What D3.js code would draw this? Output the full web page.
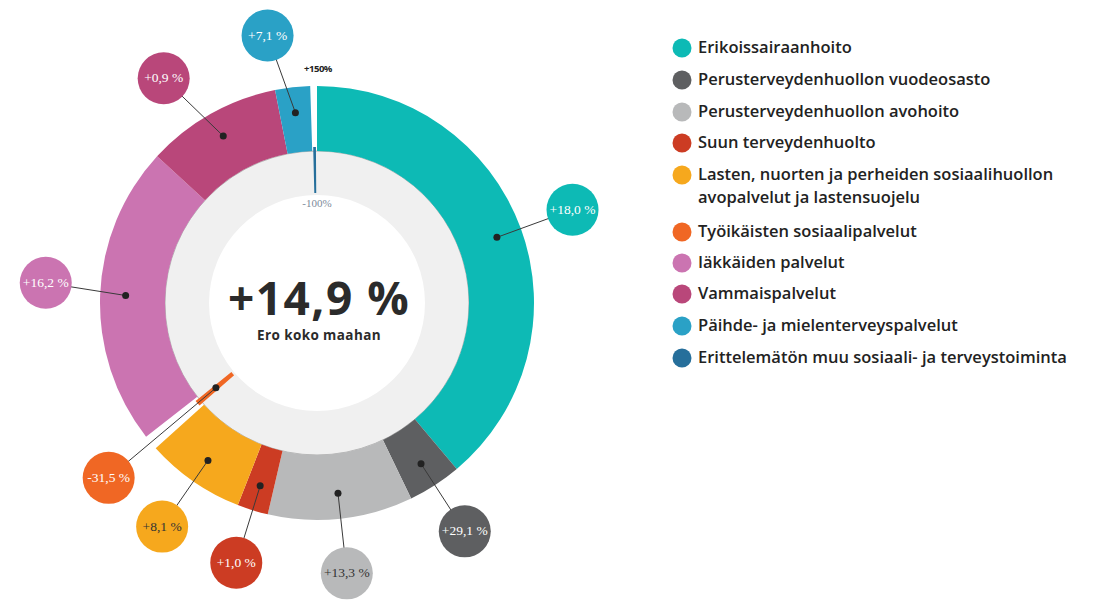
<!DOCTYPE html>
<html>
<head>
<meta charset="utf-8">
<script src="https://cdn.jsdelivr.net/npm/d3@7"></script>
<style>
body { margin: 0; background: #fff; }
</style>
</head>
<body>
<div id="chart"></div>
<script>
// categories in drawing order (clockwise from 12 o'clock)
var categories = ["Erikoissairaanhoito",
                  "Perusterveydenhuollon vuodeosasto",
                  "Perusterveydenhuollon avohoito",
                  "Suun terveydenhuolto",
                  "Lasten, nuorten ja perheiden sosiaalihuollon avopalvelut ja lastensuojelu",
                  "Työikäisten sosiaalipalvelut",
                  "Iäkkäiden palvelut",
                  "Vammaispalvelut",
                  "Päihde- ja mielenterveyspalvelut",
                  "Erittelemätön muu sosiaali- ja terveystoiminta"];
// share of the ring (percent of the full circle)
var shares = [38.9, 4.0, 10.8, 2.3, 7.4, 1.1, 22.4, 10.1, 2.6, 0.5];
// difference to whole country, %
var diffs = [18.0, 29.1, 13.3, 1.0, 8.1, -31.5, 16.2, 0.9, 7.1, -100];
var diffLabels = ["+18,0 %", "+29,1 %", "+13,3 %", "+1,0 %", "+8,1 %",
                  "-31,5 %", "+16,2 %", "+0,9 %", "+7,1 %", null];
var colors = ["#0dbab5", "#5e5f61", "#b8b9ba", "#cc3c23", "#f6a81d",
              "#f06724", "#cb74b1", "#b9477a", "#2aa1c6", "#266f9b"];
var legendLines = [["Erikoissairaanhoito"],
                   ["Perusterveydenhuollon vuodeosasto"],
                   ["Perusterveydenhuollon avohoito"],
                   ["Suun terveydenhuolto"],
                   ["Lasten, nuorten ja perheiden sosiaalihuollon", "avopalvelut ja lastensuojelu"],
                   ["Työikäisten sosiaalipalvelut"],
                   ["Iäkkäiden palvelut"],
                   ["Vammaispalvelut"],
                   ["Päihde- ja mielenterveyspalvelut"],
                   ["Erittelemätön muu sosiaali- ja terveystoiminta"]];
var totalLabel = "+14,9 %";
var totalSub = "Ero koko maahan";
var scaleTop = "+150%";
var scaleBottom = "-100%";

var w = 1097, h = 604;
var cx = 317, cy = 303;
var rWhite = 108, rZero = 152, rOuter = 217;
var rLabel = 272, rBubble = 26;
// small angular nudges (degrees) to keep crowded bubbles apart
var nudge = {6: 2, 7: -5, 8: -4};

var svg = d3.select("#chart")
    .append("svg")
    .attr("width", w)
    .attr("height", h);

var g = svg.append("g")
    .attr("transform", "translate(" + cx + "," + cy + ")");

var data = categories.map(function(c, i) {
    return {name: c, share: shares[i], diff: diffs[i], label: diffLabels[i], color: colors[i], i: i};
});

var pie = d3.pie()
    .sort(null)
    .value(function(d) { return d.share; });

var arcs = pie(data);

// gray band for the negative side
g.append("path")
    .attr("d", d3.arc()({innerRadius: rWhite, outerRadius: rZero, startAngle: 0, endAngle: 2 * Math.PI}))
    .attr("fill", "#f0f0f0");

g.append("circle")
    .attr("r", rZero)
    .attr("fill", "none")
    .attr("stroke", "#8a8a8a")
    .attr("stroke-width", 0.6);

var posArc = d3.arc().innerRadius(rZero).outerRadius(rOuter);
var negArc = d3.arc().innerRadius(rWhite + 2).outerRadius(rZero + 4);

g.selectAll("path.seg")
    .data(arcs)
    .enter()
    .append("path")
    .attr("class", "seg")
    .attr("fill", function(d) { return d.data.color; })
    .attr("d", function(d) {
        if (d.data.diff >= 0) return posArc(d);
        var mid = (d.startAngle + d.endAngle) / 2;
        var half = (d.endAngle - d.startAngle) * 0.28;
        return negArc({startAngle: mid - half, endAngle: mid + half});
    });

function midAngle(d) { return (d.startAngle + d.endAngle) / 2; }
function polar(a, r) { return [Math.sin(a) * r, -Math.cos(a) * r]; }

// leader lines and bubbles
var labelled = arcs.filter(function(d) { return d.data.label; });

labelled.forEach(function(d) {
    var a = midAngle(d);
    var rDot = d.data.diff >= 0 ? (rZero + rOuter) / 2 + 7 : (rWhite + rZero) / 2 + 2;
    var dot = polar(a, rDot);
    var ab = a + (nudge[d.data.i] || 0) * Math.PI / 180;
    var b = polar(ab, rLabel);

    g.append("line")
        .attr("x1", dot[0]).attr("y1", dot[1])
        .attr("x2", b[0]).attr("y2", b[1])
        .style("stroke", "#3a3a3a")
        .style("stroke-width", 1);

    g.append("circle")
        .attr("cx", dot[0]).attr("cy", dot[1])
        .attr("r", 3.5)
        .attr("fill", "#222");

    g.append("circle")
        .attr("cx", b[0]).attr("cy", b[1])
        .attr("r", rBubble)
        .attr("fill", d.data.color);

    var dark = d.data.i == 2 || d.data.i == 4;
    g.append("text")
        .attr("x", b[0]).attr("y", b[1] + 4)
        .attr("text-anchor", "middle")
        .attr("font-family", "Liberation Serif, serif")
        .attr("font-size", "13.5px")
        .attr("fill", dark ? "#333" : "#fff")
        .text(d.data.label);
});

// scale labels
g.append("text")
    .attr("x", 1).attr("y", -rOuter - 14)
    .attr("text-anchor", "middle")
    .attr("font-family", "Open Sans, sans-serif")
    .attr("font-weight", "bold")
    .attr("font-size", "9.5px")
    .attr("letter-spacing", "-0.5px")
    .attr("fill", "#222")
    .text(scaleTop);

g.append("text")
    .attr("x", 0).attr("y", -rWhite + 12)
    .attr("text-anchor", "middle")
    .attr("font-family", "Liberation Serif, serif")
    .attr("font-size", "11px")
    .attr("fill", "#7d8b9a")
    .text(scaleBottom);

// center
g.append("text")
    .attr("x", 2).attr("y", 12)
    .attr("text-anchor", "middle")
    .attr("font-family", "Open Sans, sans-serif")
    .attr("font-weight", "bold")
    .attr("font-size", "46px")
    .attr("letter-spacing", "1.5px")
    .attr("fill", "#2b2b2b")
    .text(totalLabel);

g.append("text")
    .attr("x", 2).attr("y", 37)
    .attr("text-anchor", "middle")
    .attr("font-family", "Open Sans, sans-serif")
    .attr("font-weight", "bold")
    .attr("font-size", "13.5px")
    .attr("letter-spacing", "0.4px")
    .attr("fill", "#2b2b2b")
    .text(totalSub);

// legend
var legendY = [48, 80, 112, 143, 175, 232, 263, 294, 326, 358];
var legend = svg.append("g");

legend.selectAll("circle")
    .data(data)
    .enter()
    .append("circle")
    .attr("cx", 682)
    .attr("cy", function(d, i) { return legendY[i]; })
    .attr("r", 9.5)
    .attr("fill", function(d) { return d.color; });

legend.selectAll("text")
    .data(data)
    .enter()
    .append("text")
    .attr("x", 698)
    .attr("y", function(d, i) { return legendY[i] + 5; })
    .attr("font-family", "Open Sans, sans-serif")
    .attr("font-size", "16.5px")
    .attr("font-weight", 600)
    .attr("fill", "#222")
    .each(function(d, i) {
        var t = d3.select(this);
        legendLines[i].forEach(function(line, k) {
            t.append("tspan")
                .attr("x", 698)
                .attr("dy", k == 0 ? 0 : 23)
                .text(line);
        });
    });
</script>
</body>
</html>
